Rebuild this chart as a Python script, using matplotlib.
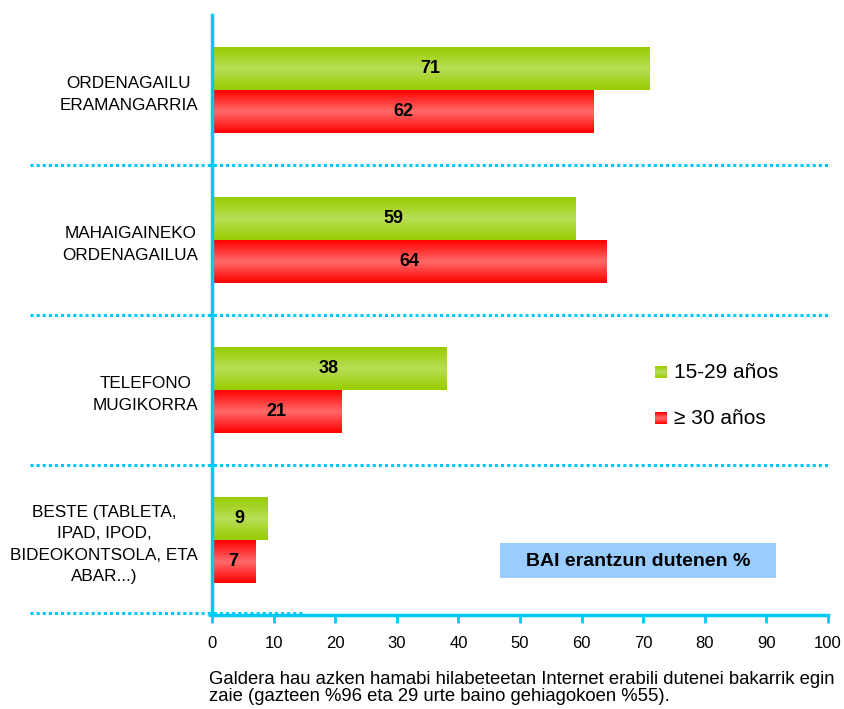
import numpy as np
import matplotlib
matplotlib.use("Agg")
import matplotlib.pyplot as plt
from matplotlib.colors import LinearSegmentedColormap
from matplotlib.patches import Rectangle
import matplotlib.transforms as mtransforms

plt.rcParams['font.family'] = ['Liberation Sans', 'DejaVu Sans']

# data
categories = ["ORDENAGAILU\nERAMANGARRIA",
              "MAHAIGAINEKO\nORDENAGAILUA",
              "TELEFONO\nMUGIKORRA",
              "BESTE (TABLETA,\nIPAD, IPOD,\nBIDEOKONTSOLA, ETA\nABAR...)"]
young = [71, 59, 38, 9]
older = [62, 64, 21, 7]
series_names = ["15-29 años", "\u2265 30 años"]
xticks = [0, 10, 20, 30, 40, 50, 60, 70, 80, 90, 100]
footnote = ("Galdera hau azken hamabi hilabeteetan Internet erabili dutenei bakarrik egin\n"
            "zaie (gazteen %96 eta 29 urte baino gehiagokoen %55).")
boxtext = "BAI erantzun dutenen %"

cyan = "#00c8f8"
green_cm = LinearSegmentedColormap.from_list("g", ["#99cc00", "#b9de58", "#99cc00"])
red_cm = LinearSegmentedColormap.from_list("r", ["#ff0000", "#ff6a6a", "#ff0000"])

fig = plt.figure(figsize=(8.44, 7.09), dpi=100)
ax = fig.add_axes([212/844, 1-615/709, 616/844, 600/709])

y = np.arange(len(categories))
h = 0.285
bars_g = ax.barh(y - h/2, young, height=h, color="none")
bars_r = ax.barh(y + h/2, older, height=h, color="none")

# gradient fill for each bar
grad = np.linspace(0, 1, 100).reshape(-1, 1)
for bars, cm in ((bars_g, green_cm), (bars_r, red_cm)):
    for b in bars:
        x0, y0, w, hh = b.get_x(), b.get_y(), b.get_width(), b.get_height()
        ax.imshow(grad, extent=[x0, x0 + w, y0 + hh, y0], cmap=cm, aspect='auto',
                  zorder=2, interpolation='bicubic')

for bars, vals in ((bars_g, young), (bars_r, older)):
    for b, v in zip(bars, vals):
        ax.text(b.get_x() + b.get_width()/2, b.get_y() + b.get_height()/2, str(v),
                ha='center', va='center', fontsize=13, fontweight='bold', zorder=3)

ax.set_xlim(0, 100)
ax.set_ylim(len(categories) - 0.5, -0.5)
ax.set_xticks(xticks)
ax.set_yticks(y)
ax.set_yticklabels(categories, fontsize=12.3, ha='right', multialignment='center',
                   linespacing=1.5)
ax.tick_params(axis='y', length=0, pad=10)
ax.set_yticks(np.arange(len(categories)) + 0.5, minor=True)
ax.tick_params(axis='y', which='minor', length=3, width=2, color=cyan)
ax.tick_params(axis='x', length=6, width=2, color=cyan, labelsize=12, pad=9)

for s in ("top", "right"):
    ax.spines[s].set_visible(False)
for s in ("left", "bottom"):
    ax.spines[s].set_color(cyan)
    ax.spines[s].set_linewidth(2.5)
    ax.spines[s].set_zorder(4)

# dotted separators between groups
trans = mtransforms.blended_transform_factory(ax.transAxes, ax.transData)
seps = np.arange(len(categories)) + 0.5
for i, yy in enumerate(seps):
    last = i == len(categories) - 1
    x_end = 0.151 if last else 1.003
    ax.plot([-0.295, x_end], [yy - (0.015 if last else 0), yy - (0.015 if last else 0)],
            transform=trans, clip_on=False, color=cyan, lw=2.2,
            linestyle=(0, (1, 1)), zorder=5 if last else 1)

# legend drawn by hand
for j, (name, cm) in enumerate(zip(series_names, (green_cm, red_cm))):
    ty = 372 + j * 46
    sq = fig.add_axes([655/844, 1-(ty+6)/709, 12/844, 12/709])
    sq.imshow(grad, cmap=cm, aspect='auto', interpolation='bicubic')
    sq.axis('off')
    fig.text(674/844, 1-ty/709, name, fontsize=15, va='center', ha='left')

# label box
fig.patches.append(Rectangle((500/844, 1-578/709), 276/844, 35/709,
                             transform=fig.transFigure, facecolor="#99ccff",
                             edgecolor="none", zorder=0))
fig.text(638/844, 1-561/709, boxtext, fontsize=14, fontweight='bold',
         ha='center', va='center')

fig.text(209/844, 1-671/709, footnote, fontsize=13.3, va='top', ha='left',
         linespacing=1.0)

fig.savefig("out.png", dpi=100)
